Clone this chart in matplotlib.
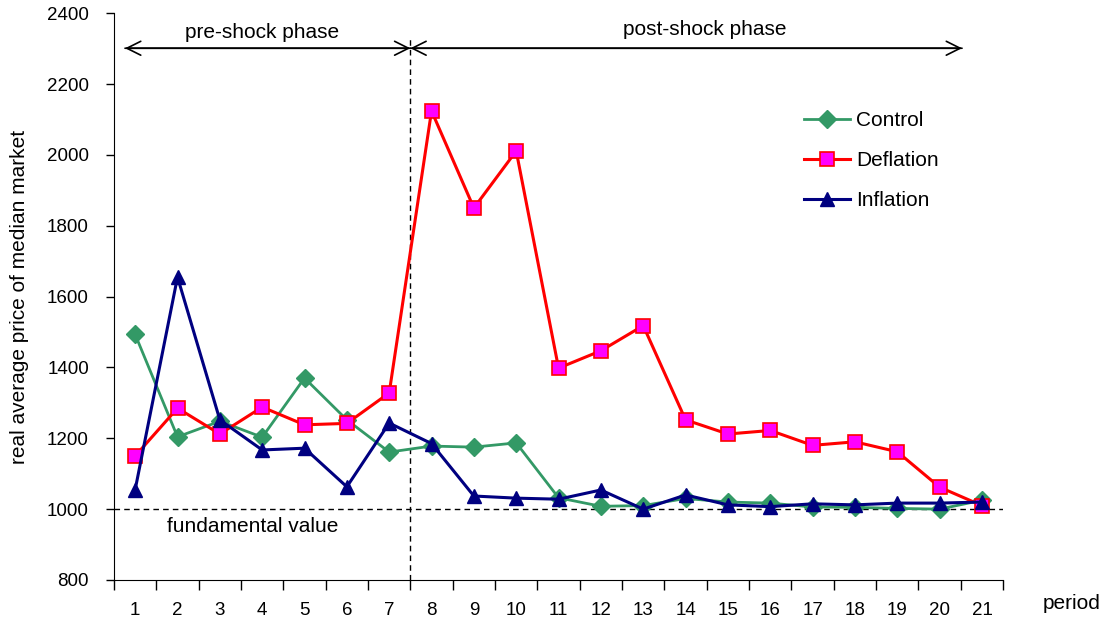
import matplotlib.pyplot as plt

plt.rcParams['font.family'] = ['Liberation Sans', 'DejaVu Sans']

periods = list(range(1, 22))
control = [1493, 1204, 1248, 1203, 1370, 1252, 1161, 1178, 1175, 1187, 1032,
           1008, 1010, 1030, 1020, 1017, 1006, 1005, 1002, 1000, 1025]
deflation = [1150, 1285, 1212, 1288, 1238, 1242, 1328, 2124, 1850, 2011, 1398,
             1447, 1518, 1252, 1212, 1222, 1180, 1190, 1162, 1062, 1010]
inflation = [1055, 1655, 1252, 1167, 1172, 1063, 1243, 1185, 1037, 1031, 1028,
             1054, 1000, 1040, 1012, 1007, 1015, 1012, 1017, 1017, 1020]

fig = plt.figure(figsize=(11.1, 6.27), dpi=100)
ax = fig.add_axes([0.1027, 0.075, 0.801, 0.904])

ax.plot(periods, control, color='#339966', lw=2, marker='D', ms=9.5,
        mfc='#339966', mec='#339966', label='Control', zorder=3)
ax.plot(periods, deflation, color='#FF0000', lw=2.2, marker='s', ms=10.5,
        mfc='#FF00FF', mec='#FF0000', mew=1.2, label='Deflation', zorder=3)
ax.plot(periods, inflation, color='#000080', lw=2.2, marker='^', ms=10.5,
        mfc='#000080', mec='#000080', label='Inflation', zorder=4)

# fundamental value and shock line
ax.axhline(1000, color='black', lw=1, ls=(0, (4, 3)), zorder=2)
ax.plot([7.5, 7.5], [800, 2330], color='black', lw=1, ls=(0, (4, 3)), zorder=2)
ax.text(3.78, 950, 'fundamental value', fontsize=15, ha='center', va='center')

# phase arrows
arrow = dict(arrowstyle='->', lw=1.2, color='black', mutation_scale=25,
             shrinkA=0, shrinkB=0)
for a, b in [(0.76, 7.5), (7.5, 0.76), (20.53, 7.5), (7.5, 20.53)]:
    ax.annotate('', xy=(a, 2301), xytext=(b, 2301), arrowprops=arrow)
ax.text(4.0, 2345, 'pre-shock phase', fontsize=15, ha='center', va='center')
ax.text(14.45, 2355, 'post-shock phase', fontsize=15, ha='center', va='center')

ax.set_xlim(0.5, 21.5)
ax.set_ylim(800, 2400)
ax.set_yticks(range(800, 2401, 200))
ax.set_xticks(periods)
ax.set_xticks([p + 0.5 for p in range(0, 22)], minor=True)
ax.tick_params(axis='x', which='major', length=0, pad=16, labelsize=13.5)
ax.tick_params(axis='x', which='minor', length=7, width=1)
ax.tick_params(axis='y', length=6, width=1, labelsize=13.5, pad=12)
ax.spines['top'].set_visible(False)
ax.spines['right'].set_visible(False)
ax.set_ylabel('real average price of median market', fontsize=15, labelpad=13)
fig.text(0.965, 0.038, 'period', fontsize=15, ha='center', va='center')

ax.legend(loc='upper left', bbox_to_anchor=(0.755, 0.86), frameon=False,
          fontsize=15, handlelength=2.2, labelspacing=1.0, handletextpad=0.3)

fig.savefig('out.png', dpi=100)
